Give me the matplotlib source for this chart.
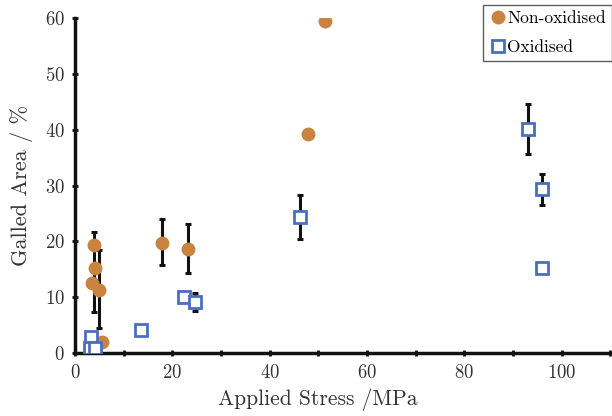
import matplotlib
matplotlib.use('Agg')
import matplotlib.pyplot as plt
import numpy as np

plt.rcParams['font.family'] = 'serif'
plt.rcParams['font.serif'] = ['cmr10', 'DejaVu Serif']
plt.rcParams['mathtext.fontset'] = 'cm'
plt.rcParams['axes.formatter.use_mathtext'] = True

# Non-oxidised samples
non_ox_stress = [51.3, 47.8, 17.9, 23.2, 3.9, 4.2, 3.6, 4.9, 5.5]
non_ox_area = [59.4, 39.2, 19.7, 18.6, 19.3, 15.3, 12.6, 11.3, 2.0]

# Oxidised samples
ox_stress = [3.3, 3.1, 4.1, 13.6, 22.4, 24.6, 46.2, 93.1, 95.9, 95.9]
ox_area = [2.9, 1.0, 1.0, 4.2, 10.1, 9.1, 24.3, 40.1, 29.3, 15.3]

# error bars (x, y, lower, upper)
err_x = [17.9, 23.2, 4.0, 4.9, 24.6, 46.2, 93.1, 95.9, 95.9]
err_y = [19.7, 18.6, 14.5, 11.5, 9.1, 24.3, 40.1, 29.3, 15.3]
err_lo = [3.9, 4.3, 7.2, 7.0, 1.6, 3.9, 4.5, 2.7, 1.0]
err_hi = [4.3, 4.5, 7.2, 7.0, 1.6, 4.0, 4.5, 2.7, 0.0]

orange = '#C8843F'
blue = '#4A6FBE'

fig = plt.figure(figsize=(6.12, 4.16), dpi=100)
ax = fig.add_axes([0.1225, 0.151, 0.8745, 0.806])

ax.errorbar(err_x, err_y, yerr=[err_lo, err_hi], fmt='none', ecolor='#111111',
            elinewidth=2.2, capsize=2.5, capthick=2.2, zorder=1)
ax.plot(non_ox_stress, non_ox_area, 'o', color=orange, markersize=10,
        markeredgewidth=0, label='Non-oxidised', zorder=3)
ax.plot(ox_stress, ox_area, 's', markerfacecolor='white', markeredgecolor=blue,
        markersize=9, markeredgewidth=2, label='Oxidised', zorder=4)

ax.set_xlim(0, 110)
ax.set_ylim(0, 60)
ax.set_xticks(np.arange(0, 101, 20))
ax.set_xticks(np.arange(10, 111, 20), minor=True)
ax.set_yticks(np.arange(0, 61, 10))

for s in ['top', 'right']:
    ax.spines[s].set_visible(False)
for s in ['left', 'bottom']:
    ax.spines[s].set_linewidth(2.5)
    ax.spines[s].set_color('#111111')

ax.tick_params(which='both', direction='inout', length=5, width=2, labelsize=13.5,
               colors='#111111', labelcolor='#333333')
ax.tick_params(axis='x', pad=5)
ax.tick_params(axis='y', pad=5)

ax.set_xlabel('Applied Stress /MPa', fontsize=15.5, color='#333333')
ax.set_ylabel('Galled Area / %', fontsize=16, color='#333333')
ax.xaxis.set_label_coords(0.454, -0.105)
ax.yaxis.set_label_coords(-0.079, 0.5)

leg = ax.legend(loc='upper right', bbox_to_anchor=(1.0, 0.988), bbox_transform=fig.transFigure,
                fontsize=12.5, frameon=True, fancybox=False, handletextpad=0.05,
                handlelength=1.0, borderpad=0.35, labelspacing=0.75, borderaxespad=0)
leg.get_frame().set_edgecolor('#333333')
leg.get_frame().set_linewidth(1.0)

fig.savefig('out.png', dpi=100)
